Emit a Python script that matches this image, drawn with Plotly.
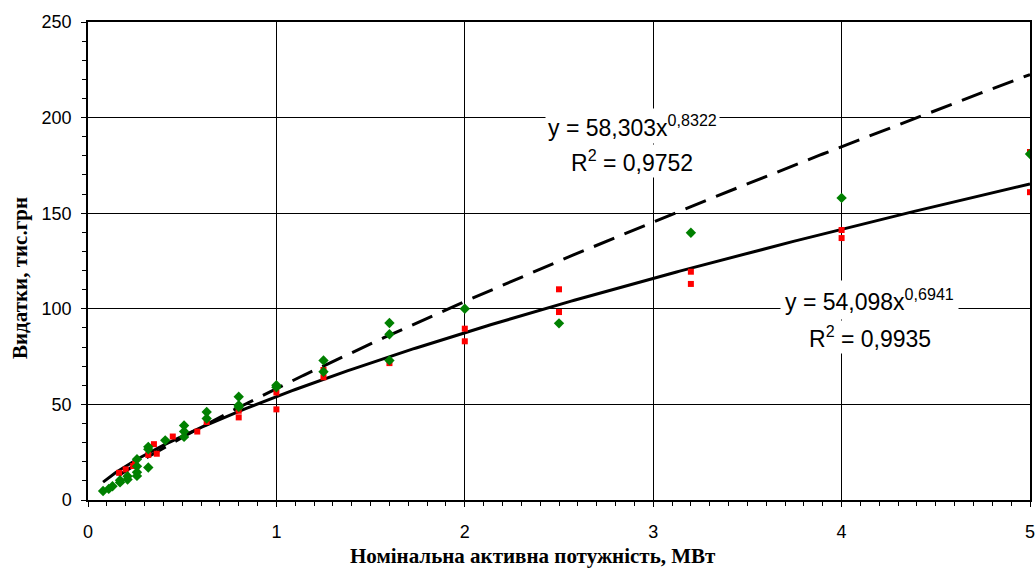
import numpy as np
import plotly.graph_objects as go

# Green series (diamonds)
green_x = [0.08, 0.11, 0.13, 0.17, 0.17, 0.21, 0.21, 0.26, 0.26, 0.26, 0.26, 0.32, 0.32, 0.32,
           0.41, 0.51, 0.51, 0.51, 0.63, 0.63, 0.8, 0.8, 0.8, 1.0, 1.0,
           1.25, 1.25, 1.6, 1.6, 1.6, 2.0, 2.5, 3.2, 4.0, 5.0]
green_y = [4.7, 5.8, 7.2, 9.2, 10.3, 10.7, 12.4, 12.6, 14.5, 17.6, 21.3, 17.0, 26.5, 27.8,
           31.2, 33.0, 35.8, 39.0, 42.6, 46.0, 48.6, 49.6, 54.0, 59.0, 60.0,
           67.1, 73.0, 73.0, 86.7, 92.6, 100.0, 92.4, 139.8, 158.0, 181.0]

# Red series (squares)
red_x = [0.165, 0.2, 0.24, 0.25, 0.32, 0.35, 0.365, 0.45, 0.58, 0.63, 0.8, 0.8, 1.0, 1.0,
         1.25, 1.25, 1.6, 2.0, 2.0, 2.5, 2.5, 3.2, 3.2, 4.0, 4.0, 5.0, 5.0]
red_y = [14.2, 16.0, 17.8, 18.8, 23.6, 29.2, 24.2, 33.2, 35.8, 40.8, 43.2, 46.7, 47.4, 56.2,
         64.2, 68.0, 71.6, 83.0, 89.6, 98.3, 110.2, 113.0, 119.4, 137.0, 141.2, 161.0, 182.0]

# Power trend-line coefficients shown on chart
fit_dash = (58.303, 0.8322)
fit_solid = (54.098, 0.6941)
dash_range = (0.163, 5.0)
solid_range = (0.08, 5.0)

xticks = [0, 1, 2, 3, 4, 5]
yticks = [0, 50, 100, 150, 200, 250]

xs_s = np.linspace(*solid_range, 300)
xs_d = np.linspace(*dash_range, 300)

fig = go.Figure()
fig.add_trace(go.Scatter(x=xs_d, y=fit_dash[0] * xs_d ** fit_dash[1], mode="lines",
                         line=dict(color="black", width=3, dash="22px,11px"), hoverinfo="skip"))
fig.add_trace(go.Scatter(x=xs_s, y=fit_solid[0] * xs_s ** fit_solid[1], mode="lines",
                         line=dict(color="black", width=3), hoverinfo="skip"))
fig.add_trace(go.Scatter(x=red_x, y=red_y, mode="markers",
                         marker=dict(symbol="square", size=6, color="#FF0000")))
fig.add_trace(go.Scatter(x=green_x, y=green_y, mode="markers",
                         marker=dict(symbol="diamond", size=8, color="#008000")))

axis_common = dict(showline=True, linecolor="black", linewidth=1.5, mirror=True,
                   showgrid=True, gridcolor="black", gridwidth=1, zeroline=False,
                   ticks="outside", ticklen=5, tickcolor="black", automargin=False,
                   ticklabeloverflow="allow",
                   tickfont=dict(family="Liberation Sans, Arial", size=18, color="black"))

fig.update_xaxes(range=[0, 5], tickvals=xticks, ticktext=[str(v) for v in xticks],
                 ticklabelstandoff=10,
                 minor=dict(dtick=0.1, ticks="outside", ticklen=4, tickcolor="black", showgrid=False),
                 **axis_common)
fig.update_yaxes(range=[0, 250], tickvals=yticks, ticktext=[str(v) for v in yticks],
                 ticklabelstandoff=6,
                 minor=dict(dtick=10, ticks="outside", ticklen=4, tickcolor="black", showgrid=False),
                 **axis_common)

eq_font = dict(family="Liberation Sans, Arial", size=23, color="black")
fig.add_annotation(x=2.89, y=195.5, xref="x", yref="y", text="y = 58,303x<sup>0,8322</sup>",
                   showarrow=False, font=eq_font, bgcolor="white", borderpad=2)
fig.add_annotation(x=2.89, y=177.5, xref="x", yref="y", text="R<sup>2</sup> = 0,9752",
                   showarrow=False, font=eq_font, bgcolor="white")
fig.add_annotation(x=4.15, y=104.5, xref="x", yref="y", text="y = 54,098x<sup>0,6941</sup>",
                   showarrow=False, font=eq_font, bgcolor="white", borderpad=4)
fig.add_annotation(x=4.15, y=85.5, xref="x", yref="y", text="R<sup>2</sup> = 0,9935",
                   showarrow=False, font=eq_font, bgcolor="white")

L, R, T, B = 88, 5, 22, 76
W, H = 1035, 576
pw, ph = W - L - R, H - T - B

fig.add_annotation(x=(533 - L) / pw, y=(H - B - 556) / ph, xref="paper", yref="paper",
                   xanchor="center", yanchor="middle",
                   text="<b>Номінальна активна потужність, МВт</b>", showarrow=False,
                   font=dict(family="Liberation Serif, Times New Roman", size=21, color="black"))
fig.add_annotation(x=(20 - L) / pw, y=(H - B - 278) / ph, xref="paper", yref="paper",
                   xanchor="center", yanchor="middle",
                   text="<b>Видатки, тис.грн</b>", textangle=-90, showarrow=False,
                   font=dict(family="Liberation Serif, Times New Roman", size=21, color="black"))

fig.update_layout(width=W, height=H, margin=dict(l=L, r=R, t=T, b=B),
                  plot_bgcolor="white", paper_bgcolor="white", showlegend=False)

fig.write_html("out.html")
